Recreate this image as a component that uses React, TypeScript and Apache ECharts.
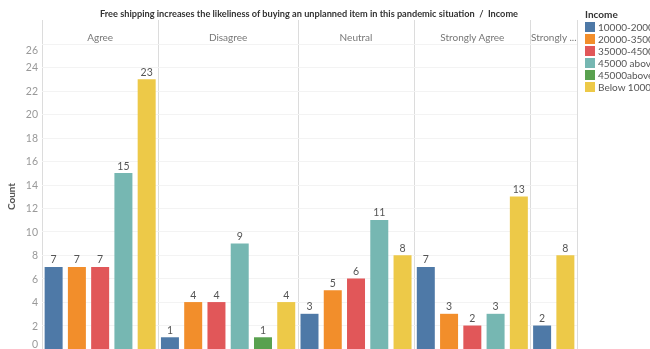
import React, { useEffect, useRef } from 'react';
import * as echarts from 'echarts';

const facets = ['Agree', 'Disagree', 'Neutral', 'Strongly Agree', 'Strongly Disagree'];
const incomes = ['10000-20000', '20000-35000', '35000-45000', '45000 above', '45000above', 'Below 10000'];
const income10000to20000 = [7, 1, 3, 7, 2];
const income20000to35000 = [7, 4, 5, 3, null];
const income35000to45000 = [7, 4, 6, 2, null];
const income45000Above = [15, 9, 11, 3, null];
const income45000above = [null, 1, null, null, null];
const incomeBelow10000 = [23, 4, 8, 13, 8];
const yMax = 26;
const yInterval = 2;

const colors = ['#4e79a7', '#f28e2b', '#e15759', '#76b7b2', '#59a14f', '#edc948'];
const FONT = 'Lato, "Open Sans", sans-serif';

const PLOT_LEFT = 42;
const PLOT_RIGHT = 577;
const GRID_TOP = 44;
const HEADER_TOP = 20;
const CHART_H = 349;

export default function App() {
  const ref = useRef<HTMLDivElement>(null);
  useEffect(() => {
    if (!ref.current) return;
    const chart = echarts.init(ref.current, null, { renderer: 'svg' });
    const valuesByIncome = [
      income10000to20000,
      income20000to35000,
      income35000to45000,
      income45000Above,
      income45000above,
      incomeBelow10000,
    ];
    const presentPerFacet = facets.map((_, fi) =>
      incomes.map((_, ii) => ii).filter((ii) => valuesByIncome[ii][fi] != null)
    );
    const totalBars = presentPerFacet.reduce((s, p) => s + p.length, 0);
    const band = (PLOT_RIGHT - PLOT_LEFT) / totalBars;

    const grids: any[] = [];
    const xAxes: any[] = [];
    const yAxes: any[] = [];
    const series: any[] = [];
    const sepX: number[] = [];
    let cum = 0;
    facets.forEach((facet, fi) => {
      const present = presentPerFacet[fi];
      const left = PLOT_LEFT + cum * band;
      const width = present.length * band;
      sepX.push(left);
      cum += present.length;
      grids.push({ left, width, top: GRID_TOP, bottom: 0, containLabel: false });
      xAxes.push({
        type: 'category',
        gridIndex: fi,
        position: 'top',
        data: present.map((ii) => incomes[ii]),
        axisLabel: { show: false },
        axisTick: { show: false },
        axisLine: { show: true, lineStyle: { color: '#dcdcdc', width: 1 } },
        splitLine: { show: false },
        name: facet,
        nameLocation: 'middle',
        nameGap: 2,
        nameTruncate: { maxWidth: width + 4, ellipsis: ' ...' },
        nameTextStyle: { color: '#777', fontSize: 10, fontFamily: FONT },
      });
      yAxes.push({
        type: 'value',
        gridIndex: fi,
        min: 0,
        max: yMax,
        interval: yInterval,
        axisLine: { show: false },
        axisTick: { show: false },
        axisLabel: {
          show: fi === 0,
          color: '#999',
          fontSize: 10.5,
          fontFamily: FONT,
          margin: 4,
          verticalAlignMinLabel: 'bottom',
          verticalAlignMaxLabel: 'top',
        },
        splitLine: { show: true, lineStyle: { color: '#f3f3f3', width: 1 } },
        name: fi === 0 ? 'Count' : '',
        nameLocation: 'middle',
        nameGap: 26,
        nameRotate: 90,
        nameTextStyle: { color: '#555', fontSize: 10, fontWeight: 'bold', fontFamily: FONT },
      });
      present.forEach((ii) => {
        series.push({
          type: 'bar',
          name: incomes[ii],
          xAxisIndex: fi,
          yAxisIndex: fi,
          data: [[incomes[ii], valuesByIncome[ii][fi]]],
          barWidth: 18,
          barGap: '-100%',
          itemStyle: { color: colors[ii] },
          label: {
            show: true,
            position: 'top',
            distance: 2,
            color: '#555',
            fontSize: 10.5,
            fontFamily: FONT,
          },
        });
      });
    });
    sepX.push(PLOT_RIGHT);

    chart.setOption({
      animation: false,
      color: colors,
      title: [
        {
          text: 'Free shipping increases the likeliness of buying an unplanned item in this pandemic situation  /  Income',
          left: 309,
          textAlign: 'center',
          top: 9,
          padding: 0,
          textStyle: { fontSize: 9.2, fontWeight: 'bold', color: '#333', fontFamily: FONT },
        },
        {
          text: 'Income',
          left: 585,
          top: 9,
          padding: 0,
          textStyle: { fontSize: 10, fontWeight: 'bold', color: '#333', fontFamily: FONT },
        },
      ],
      legend: {
        data: incomes,
        orient: 'vertical',
        left: 585,
        top: 22,
        itemWidth: 10,
        itemHeight: 10,
        itemGap: 2,
        padding: 0,
        icon: 'rect',
        textStyle: { fontSize: 10, color: '#555', fontFamily: FONT, padding: [0, 0, 0, -2] },
      },
      grid: grids,
      xAxis: xAxes,
      yAxis: yAxes,
      series,
      graphic: sepX.map((x) => ({
        type: 'line',
        silent: true,
        shape: { x1: Math.round(x) + 0.5, y1: HEADER_TOP, x2: Math.round(x) + 0.5, y2: CHART_H },
        style: { stroke: '#dcdcdc', lineWidth: 1 },
      })),
    });
    return () => chart.dispose();
  }, []);
  return <div ref={ref} style={{ position: 'fixed', left: 0, top: 0, width: 650, height: 349 }} />;
}
